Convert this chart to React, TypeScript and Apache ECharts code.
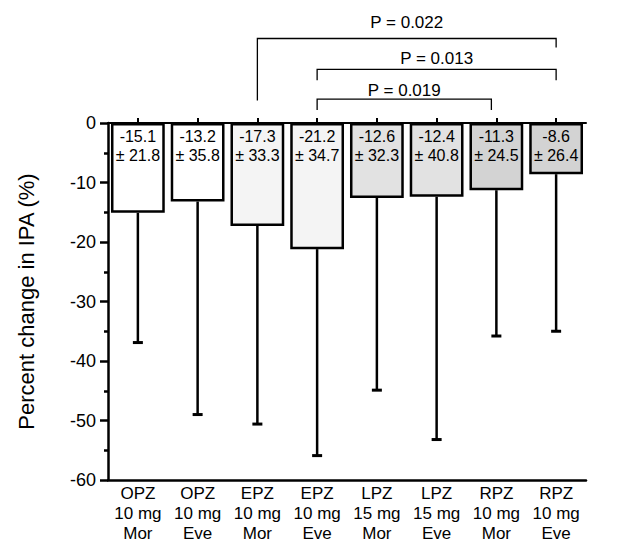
import React, { useEffect, useRef } from "react";
import * as echarts from "echarts";

const categories = [
  "OPZ\n10 mg\nMor", "OPZ\n10 mg\nEve", "EPZ\n10 mg\nMor", "EPZ\n10 mg\nEve",
  "LPZ\n15 mg\nMor", "LPZ\n15 mg\nEve", "RPZ\n10 mg\nMor", "RPZ\n10 mg\nEve",
];
const means = [-15.1, -13.2, -17.3, -21.2, -12.6, -12.4, -11.3, -8.6];
const sds = [21.8, 35.8, 33.3, 34.7, 32.3, 40.8, 24.5, 26.4];
const barColors = ["#ffffff", "#ffffff", "#f4f4f4", "#f4f4f4", "#e2e2e2", "#e2e2e2", "#d3d3d3", "#d3d3d3"];
const yTicks = [0, -10, -20, -30, -40, -50, -60];

// comparisons: [fromIndex, toIndex, label]
const comparisons: [number, number, string][] = [
  [2, 7, "P = 0.022"],
  [3, 7, "P = 0.013"],
  [3, 6, "P = 0.019"],
];
// bracket geometry in y-axis units (top level, left leg end, right leg end, text level, right x offset px)
const bracketGeom = [
  { top: 14.2, left: 3.8, right: 12.7, text: 16.9, dx: 0 },
  { top: 9.0, left: 7.2, right: 7.2, text: 10.9, dx: 0 },
  { top: 4.0, left: 2.2, right: 2.2, text: 5.5, dx: -5 },
];

export default function App() {
  const ref = useRef<HTMLDivElement>(null);
  useEffect(() => {
    if (!ref.current) return;
    const chart = echarts.init(ref.current, undefined, { renderer: "svg" });
    const font = "Liberation Sans, Arial, sans-serif";
    chart.setOption({
      animation: false,
      textStyle: { fontFamily: font, color: "#000" },
      grid: { left: 108, right: 39, top: 123, bottom: 60 },
      xAxis: [
        {
          type: "category",
          data: categories,
          position: "bottom",
          axisLine: { show: true, onZero: false, lineStyle: { color: "#000", width: 2.5 } },
          axisTick: { show: false },
          axisLabel: { color: "#000", fontSize: 17, lineHeight: 20, margin: 3, fontFamily: font, interval: 0 },
        },
        {
          type: "category",
          data: categories,
          position: "top",
          axisLine: { show: true, lineStyle: { color: "#000", width: 2 } },
          axisTick: { show: true, alignWithLabel: true, length: 5, lineStyle: { color: "#000", width: 2 } },
          axisLabel: { show: false },
        },
      ],
      yAxis: {
        type: "value",
        min: -60,
        max: 0,
        interval: 10,
        name: "Percent change in IPA (%)",
        nameLocation: "middle",
        nameGap: 71,
        nameTextStyle: { fontSize: 22, color: "#000", fontFamily: font },
        axisLine: { show: true, lineStyle: { color: "#000", width: 2.5 } },
        axisTick: { show: true, length: 8, lineStyle: { color: "#000", width: 2.5 } },
        minorTick: { show: true, splitNumber: 2, length: 4, lineStyle: { color: "#000", width: 2.5 } },
        splitLine: { show: false },
        axisLabel: {
          color: "#000", fontSize: 18, margin: 12, fontFamily: font,
          formatter: (v: number) => (yTicks.includes(v) ? String(v) : ""),
        },
      },
      series: [
        {
          type: "bar",
          data: means.map((m, i) => ({ value: m, itemStyle: { color: barColors[i] } })),
          barWidth: "90%",
          itemStyle: { borderColor: "#000", borderWidth: 2.5 },
          label: {
            show: true,
            position: "insideTop",
            distance: 4,
            color: "#000",
            fontSize: 16,
            lineHeight: 19,
            fontFamily: font,
            formatter: (p: any) => `${means[p.dataIndex].toFixed(1)}\n± ${sds[p.dataIndex].toFixed(1)}`,
          },
          z: 2,
        },
        {
          type: "custom",
          data: means.map((m, i) => [i, m, m - sds[i]]),
          z: 3,
          renderItem: (params: any, api: any) => {
            const i = api.value(0);
            const p1 = api.coord([i, api.value(1)]);
            const p2 = api.coord([i, api.value(2)]);
            const style = { stroke: "#000", lineWidth: 2.5 };
            return {
              type: "group",
              children: [
                { type: "line", shape: { x1: p1[0], y1: p1[1], x2: p2[0], y2: p2[1] }, style },
                { type: "line", shape: { x1: p2[0] - 5, y1: p2[1], x2: p2[0] + 5, y2: p2[1] }, style: { stroke: "#000", lineWidth: 3 } },
              ],
            };
          },
        },
        {
          type: "custom",
          clip: false,
          data: comparisons.map((c, k) => [c[0], c[1], k]),
          z: 4,
          renderItem: (params: any, api: any) => {
            const a = api.value(0);
            const b = api.value(1);
            const k = api.value(2);
            const g = bracketGeom[k];
            const tl = api.coord([a, g.top]);
            const tr = api.coord([b, g.top]);
            const ll = api.coord([a, g.left]);
            const rl = api.coord([b, g.right]);
            const tt = api.coord([a, g.text]);
            const xr = tr[0] + g.dx;
            const style = { stroke: "#000", lineWidth: 1.3, fill: null };
            return {
              type: "group",
              children: [
                { type: "polyline", shape: { points: [[tl[0], ll[1]], [tl[0], tl[1]], [xr, tl[1]], [xr, rl[1]]] }, style },
                {
                  type: "text",
                  x: (tl[0] + xr) / 2,
                  y: tt[1],
                  style: {
                    text: comparisons[k][2],
                    fill: "#000",
                    fontSize: 17,
                    fontFamily: font,
                    align: "center",
                    verticalAlign: "middle",
                  },
                },
              ],
            };
          },
        },
      ],
    });
    return () => chart.dispose();
  }, []);
  return <div ref={ref} style={{ width: 625, height: 543, position: "absolute", left: 0, top: 0 }} />;
}
